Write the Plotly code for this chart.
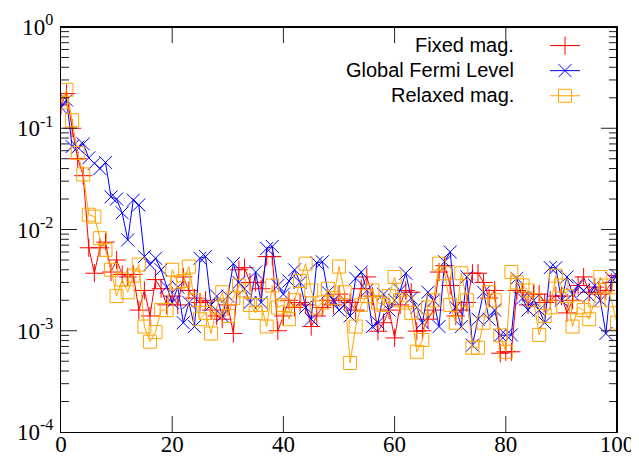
import plotly.graph_objects as go

x_vals = list(range(101))

fixed_mag = [
    0.17, 0.22, 0.10, 0.05, 0.034, 0.0066, 0.0037, 0.0066, 0.0075, 0.0038,
    0.005, 0.0036, 0.0034, 0.0036, 0.0016, 0.0025, 0.0014, 0.0032, 0.0026, 0.0018,
    0.0022, 0.0018, 0.0034, 0.0025, 0.0021, 0.0019, 0.0020, 0.0016, 0.0014, 0.0013,
    0.0018, 0.00094, 0.004, 0.0042, 0.0030, 0.0030, 0.0026, 0.0054, 0.0054, 0.001,
    0.0014, 0.002, 0.0017, 0.0019, 0.0018, 0.0011, 0.0014, 0.0017, 0.002, 0.0018,
    0.0023, 0.0020, 0.0019, 0.0016, 0.0026, 0.0034, 0.0022, 0.00099, 0.0012, 0.0016,
    0.00085, 0.0018, 0.0025, 0.0024, 0.00099, 0.001, 0.0013, 0.0016, 0.0038, 0.0044,
    0.0028, 0.0014, 0.0016, 0.0019, 0.0037, 0.0037, 0.0030, 0.0021, 0.0025, 0.0006,
    0.00062, 0.00062, 0.0025, 0.0024, 0.0018, 0.0023, 0.0023, 0.0019, 0.0020, 0.0022,
    0.0022, 0.0015, 0.0020, 0.0028, 0.0034, 0.0024, 0.0027, 0.0023, 0.0025, 0.0030,
    0.0035,
]

global_fermi = [
    0.16, 0.19, 0.066, 0.065, 0.07, 0.051, 0.045, 0.040, 0.046, 0.021,
    0.02, 0.0146, 0.0079, 0.0195, 0.0175, 0.0054, 0.0045, 0.0052, 0.004, 0.0027,
    0.0019, 0.0027, 0.0012, 0.0019, 0.0011, 0.0052, 0.0054, 0.0018, 0.0022, 0.0014,
    0.0022, 0.0046, 0.003, 0.0026, 0.0019, 0.0038, 0.0019, 0.0065, 0.0068, 0.0028,
    0.0023, 0.0031, 0.004, 0.0030, 0.0017, 0.0013, 0.0047, 0.0048, 0.0024, 0.0020,
    0.0016, 0.0018, 0.0014, 0.0033, 0.0038, 0.0025, 0.0011, 0.0012, 0.0023, 0.0016,
    0.0020, 0.0025, 0.0037, 0.0021, 0.0017, 0.0012, 0.0024, 0.0020, 0.0011, 0.0048,
    0.006, 0.0017, 0.0011, 0.0034, 0.00072, 0.0013, 0.0024, 0.0013, 0.0016, 0.0009,
    0.00091, 0.00091, 0.0033, 0.0021, 0.0016, 0.0020, 0.0016, 0.0012, 0.0042, 0.0042,
    0.0020, 0.0034, 0.0023, 0.0028, 0.0025, 0.0022, 0.0028, 0.0020, 0.00094, 0.0033,
    0.0035,
]

relaxed_mag = [
    0.18, 0.24, 0.12, 0.057, 0.035, 0.014, 0.0134, 0.0082, 0.0063, 0.004,
    0.0022, 0.0032, 0.0024, 0.0035, 0.0045, 0.0011, 0.00078, 0.00097, 0.0016, 0.0016,
    0.004, 0.003, 0.0031, 0.0043, 0.002, 0.0013, 0.0015, 0.00094, 0.0017, 0.0024,
    0.0014, 0.0021, 0.0028, 0.0025, 0.0018, 0.0015, 0.0018, 0.0011, 0.0028, 0.0017,
    0.0018, 0.0013, 0.0020, 0.0031, 0.0046, 0.0025, 0.0017, 0.0019, 0.0026, 0.0021,
    0.0043, 0.0024, 0.00048, 0.0011, 0.0018, 0.0022, 0.0025, 0.0019, 0.0018, 0.0022,
    0.0034, 0.0020, 0.0019, 0.0015, 0.00062, 0.00081, 0.0017, 0.0020, 0.0046, 0.0037,
    0.0018, 0.0012, 0.0037, 0.0020, 0.00068, 0.00068, 0.0012, 0.0024, 0.0020, 0.0009,
    0.00062, 0.0038, 0.0030, 0.0028, 0.0025, 0.0020, 0.00091, 0.0014, 0.0017, 0.0035,
    0.0028, 0.0022, 0.0011, 0.0017, 0.0016, 0.0013, 0.0020, 0.0034, 0.0028, 0.0020,
    0.0012,
]

series_names = ["Fixed mag.", "Global Fermi Level", "Relaxed mag."]
series_colors = ["#ff0000", "#0000ff", "#ffa500"]
series_symbols = ["cross-thin", "x-thin", "square-open"]
series_sizes = [13, 13, 13]

x_range = [0, 100]
y_range_log = [-4, 0]
x_tick_vals = [0, 20, 40, 60, 80, 100]
y_tick_vals = [1e-4, 1e-3, 1e-2, 1e-1, 1]
y_tick_text = ["10<sup>-4</sup>", "10<sup>-3</sup>", "10<sup>-2</sup>", "10<sup>-1</sup>", "10<sup>0</sup>"]
y_minor_vals = [m * 10.0 ** e for e in range(-4, 0) for m in range(2, 10)]

# page offset of the figure inside the browser (default body margin)
OFF = 8
PLOT_L, PLOT_R, PLOT_T, PLOT_B = 61, 617, 27, 432
FIG_W, FIG_H = 639 - OFF, 456 - OFF
MAJOR_LEN, MINOR_LEN = 16, 8

fig = go.Figure()
for ys, name, col, sym, sz in zip([fixed_mag, global_fermi, relaxed_mag],
                                  series_names, series_colors, series_symbols, series_sizes):
    fig.add_trace(go.Scatter(
        x=x_vals, y=ys, mode="lines+markers", name="",
        line=dict(color=col, width=1),
        marker=dict(symbol=sym, size=sz, color=col, line=dict(color=col, width=1)),
    ))

# inward tick marks on all four sides (lengths in pixels converted to axis units)
x_per_px = (x_range[1] - x_range[0]) / (PLOT_R - PLOT_L)
dec_per_px = (y_range_log[1] - y_range_log[0]) / (PLOT_B - PLOT_T)
y_lo, y_hi = 10.0 ** y_range_log[0], 10.0 ** y_range_log[1]
tx, ty = [], []
for v in x_tick_vals[1:-1]:
    d = 10.0 ** (MAJOR_LEN * dec_per_px)
    tx += [v, v, None, v, v, None]
    ty += [y_lo, y_lo * d, None, y_hi, y_hi / d, None]
for vals, length in ((y_tick_vals[1:-1], MAJOR_LEN), (y_minor_vals, MINOR_LEN)):
    dx = length * x_per_px
    for v in vals:
        tx += [x_range[0], x_range[0] + dx, None, x_range[1] - dx, x_range[1], None]
        ty += [v, v, None, v, v, None]
fig.add_trace(go.Scatter(x=tx, y=ty, mode="lines", line=dict(color="#222222", width=1),
                         showlegend=False, hoverinfo="skip"))
# top and right border of the frame
fig.add_trace(go.Scatter(x=[x_range[0], x_range[1], x_range[1]], y=[y_hi, y_hi, y_lo],
                         mode="lines", line=dict(color="black", width=2),
                         showlegend=False, hoverinfo="skip"))

# legend labels (right-aligned, left of the samples, as in the reference)
for i, name in enumerate(series_names):
    fig.add_annotation(
        xref="paper", yref="paper", x=(516 - PLOT_L) / (PLOT_R - PLOT_L),
        y=1 - (45 + 25 * i - PLOT_T) / (PLOT_B - PLOT_T),
        text=name, showarrow=False, xanchor="right", yanchor="middle",
        font=dict(family="Liberation Sans, Arial, sans-serif", size=20, color="black"),
    )

tick_font = dict(family="Liberation Serif, Times New Roman, serif", size=23, color="black")

fig.update_layout(
    xaxis=dict(range=x_range, tickmode="array", tickvals=x_tick_vals,
               showline=True, linecolor="black", linewidth=1, mirror=True,
               ticks="", showgrid=False, zeroline=False, automargin=False,
               ticklabelstandoff=-9, tickfont=tick_font),
    yaxis=dict(type="log", range=y_range_log, tickmode="array", tickvals=y_tick_vals,
               ticktext=y_tick_text,
               showline=True, linecolor="black", linewidth=1, mirror=True,
               ticks="", showgrid=False, zeroline=False, automargin=False,
               ticklabelstandoff=2, tickfont=tick_font),
    width=FIG_W, height=FIG_H,
    margin=dict(l=PLOT_L - OFF, r=FIG_W - (PLOT_R - OFF), t=PLOT_T - OFF,
                b=FIG_H - (PLOT_B - OFF)),
    plot_bgcolor="white", paper_bgcolor="white",
    showlegend=True,
    legend=dict(x=(545 - PLOT_L) / (PLOT_R - PLOT_L), y=1 - (28 - PLOT_T) / (PLOT_B - PLOT_T),
                xanchor="left", yanchor="top", bgcolor="rgba(0,0,0,0)",
                font=dict(family="Liberation Sans, Arial, sans-serif", size=17),
                tracegroupgap=0, itemwidth=30),
)

fig.write_html("out.html")
